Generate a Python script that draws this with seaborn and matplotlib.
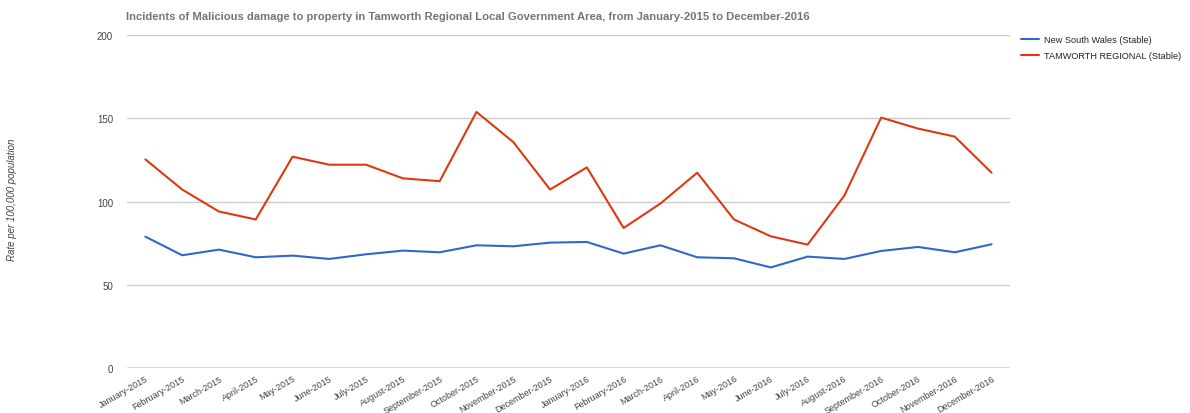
import numpy as np
import pandas as pd
import matplotlib
matplotlib.use("Agg")
import matplotlib.pyplot as plt
import seaborn as sns

# Data
months = [
    "January-2015", "February-2015", "March-2015", "April-2015", "May-2015", "June-2015",
    "July-2015", "August-2015", "September-2015", "October-2015", "November-2015", "December-2015",
    "January-2016", "February-2016", "March-2016", "April-2016", "May-2016", "June-2016",
    "July-2016", "August-2016", "September-2016", "October-2016", "November-2016", "December-2016",
]
nsw = [78.9, 67.7, 71.1, 66.5, 67.5, 65.5, 68.3, 70.5, 69.5, 73.7, 73.1, 75.3,
       75.7, 68.7, 73.7, 66.5, 65.9, 60.4, 66.9, 65.5, 70.3, 72.7, 69.5, 74.3]
tamworth = [125.3, 107.2, 94.0, 89.2, 126.9, 122.1, 122.1, 113.9, 112.2, 153.8, 135.7, 107.2,
            120.5, 84.1, 98.8, 117.3, 89.2, 79.1, 74.1, 103.6, 150.4, 143.8, 139.0, 117.3]
series_names = ["New South Wales (Stable)", "TAMWORTH REGIONAL (Stable)"]
y_ticks = [0, 50, 100, 150, 200]

df = pd.DataFrame({
    "idx": list(range(len(months))) * 2,
    "rate": nsw + tamworth,
    "series": [series_names[0]] * len(months) + [series_names[1]] * len(months),
})

sns.set_style("white")
plt.rcParams["font.family"] = ["Liberation Sans", "DejaVu Sans"]

fig = plt.figure(figsize=(11.9, 4.14), dpi=100)
ax = fig.add_axes([0.1067, 0.1087, 0.7420, 0.8043])

sns.lineplot(data=df, x="idx", y="rate", hue="series",
             palette=["#3366cc", "#dc3912"], linewidth=1.5, ax=ax)

ax.set_xlim(-0.5, len(months) - 0.5)
ax.set_ylim(0, 200)
ax.set_yticks(y_ticks)
ax.set_yticklabels([str(t) for t in y_ticks], fontsize=7, color="#444444")
ax.yaxis.grid(True, color="#cccccc", linewidth=1)
ax.set_axisbelow(True)
ax.axhline(0, color="#666666", linewidth=1, zorder=1)
ax.tick_params(axis="y", length=0, pad=10)
ax.tick_params(axis="x", length=0, pad=4)
ax.set_xticks(range(len(months)))
ax.set_xticklabels(months, rotation=30, ha="right", rotation_mode="anchor",
                   fontsize=6.5, color="#444444")
for s in ax.spines.values():
    s.set_visible(False)

ax.set_xlabel("")
ax.set_ylabel("")
fig.text(12 / 1190, 1 - 200 / 414, "Rate per 100,000 population", rotation=90,
         fontstyle="italic", fontsize=7, color="#444444", ha="center", va="center")

fig.text(0.1055, 0.958, "Incidents of Malicious damage to property in Tamworth Regional "
         "Local Government Area, from January-2015 to December-2016",
         fontsize=8.1, fontweight="bold", color="#757575", ha="left", va="center")

leg = ax.legend(loc="upper left", bbox_to_anchor=(1.003, 1.025), frameon=False,
                fontsize=6.6, handlelength=2.0, handletextpad=0.5, labelspacing=0.75)
for t in leg.get_texts():
    t.set_color("#222222")

fig.savefig("out.png", dpi=100)
